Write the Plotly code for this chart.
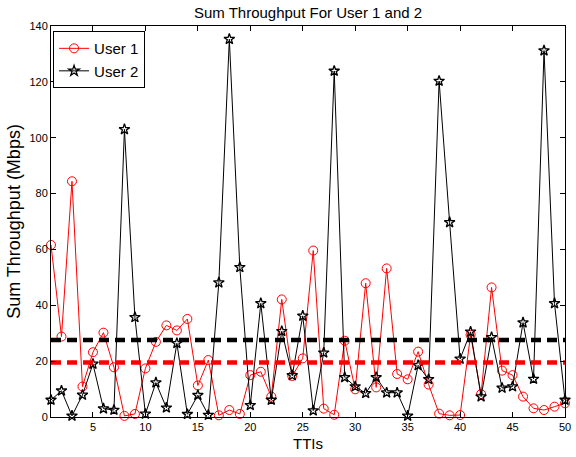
import plotly.graph_objects as go

tti = list(range(1, 51))
user1 = [61.6, 28.8, 84.4, 10.9, 23.2, 30.2, 17.8, 0.4, 1.1, 17.4,
         26.9, 32.8, 31.0, 35.1, 11.3, 20.4, 0.6, 2.5, 1.1, 15.0,
         16.2, 7.3, 42.1, 14.7, 21.0, 59.6, 3.0, 0.8, 27.3, 9.9,
         47.9, 10.6, 53.2, 15.4, 13.5, 23.4, 11.6, 1.2, 0.6, 0.7,
         29.4, 8.2, 46.4, 16.6, 15.0, 7.3, 3.1, 2.5, 3.7, 4.9]
user2 = [6.1, 9.4, 0.4, 7.9, 19.0, 3.0, 2.5, 103.0, 35.7, 1.1,
         12.3, 3.3, 26.4, 1.0, 7.8, 0.7, 48.1, 135.3, 53.6, 4.2,
         40.7, 6.1, 30.7, 14.9, 36.2, 2.3, 23.0, 123.9, 14.2, 10.9,
         8.5, 14.2, 8.7, 8.7, 0.4, 18.5, 13.5, 120.3, 69.7, 20.8,
         30.5, 7.3, 28.5, 10.4, 10.9, 33.8, 13.6, 131.2, 40.7, 6.1]
mean_user1 = 19.5
mean_user2 = 27.6
x_ticks = [5, 10, 15, 20, 25, 30, 35, 40, 45, 50]
y_ticks = [0, 20, 40, 60, 80, 100, 120, 140]

FONT = "Liberation Sans, Arial, sans-serif"

fig = go.Figure()
fig.add_trace(go.Scatter(
    x=tti, y=user1, name="User 1", mode="lines+markers",
    line=dict(color="red", width=1),
    marker=dict(symbol="circle-open", size=9, color="red", line=dict(width=1)),
    cliponaxis=False))
fig.add_trace(go.Scatter(
    x=tti, y=user2, name="User 2", mode="lines+markers",
    line=dict(color="black", width=1),
    marker=dict(symbol="star-open", size=8, color="black", line=dict(width=1.3)),
    cliponaxis=False))
fig.add_trace(go.Scatter(
    x=[tti[0], tti[-1]], y=[mean_user2, mean_user2], mode="lines",
    line=dict(color="black", width=4.5, dash="10px,6px"), showlegend=False,
    hoverinfo="skip"))
fig.add_trace(go.Scatter(
    x=[tti[0], tti[-1]], y=[mean_user1, mean_user1], mode="lines",
    line=dict(color="red", width=4.5, dash="10px,6px"), showlegend=False,
    hoverinfo="skip"))

axis_common = dict(
    showline=True, linecolor="black", linewidth=1, mirror="ticks",
    ticks="inside", ticklen=5, tickcolor="black", tickwidth=1,
    showgrid=False, zeroline=False, ticklabeloverflow="allow",
    tickfont=dict(family=FONT, size=11, color="black"),
)

fig.update_layout(
    width=576, height=457,
    margin=dict(l=51, r=5, t=26, b=40),
    paper_bgcolor="white", plot_bgcolor="white",
    font=dict(family=FONT, color="black"),
    title=dict(text="Sum Throughput For User 1 and 2", x=0.5, xref="paper",
               xanchor="center", y=1 - 13 / 457, yref="container", yanchor="middle",
               font=dict(family=FONT, size=15, color="black")),
    xaxis=dict(range=[1, 50], tickvals=x_ticks,
               title=dict(text="TTIs", font=dict(family=FONT, size=15), standoff=6),
               **axis_common),
    yaxis=dict(range=[0, 140], tickvals=y_ticks,
               title=dict(text="Sum Throughput (Mbps)", font=dict(family=FONT, size=18), standoff=4),
               **axis_common),
    legend=dict(x=0.004, y=0.987, xanchor="left", yanchor="top",
                bgcolor="white", bordercolor="black", borderwidth=1,
                font=dict(family=FONT, size=15, color="black"),
                tracegroupgap=0, itemwidth=30),
    showlegend=True,
)

fig.write_html("out.html")
